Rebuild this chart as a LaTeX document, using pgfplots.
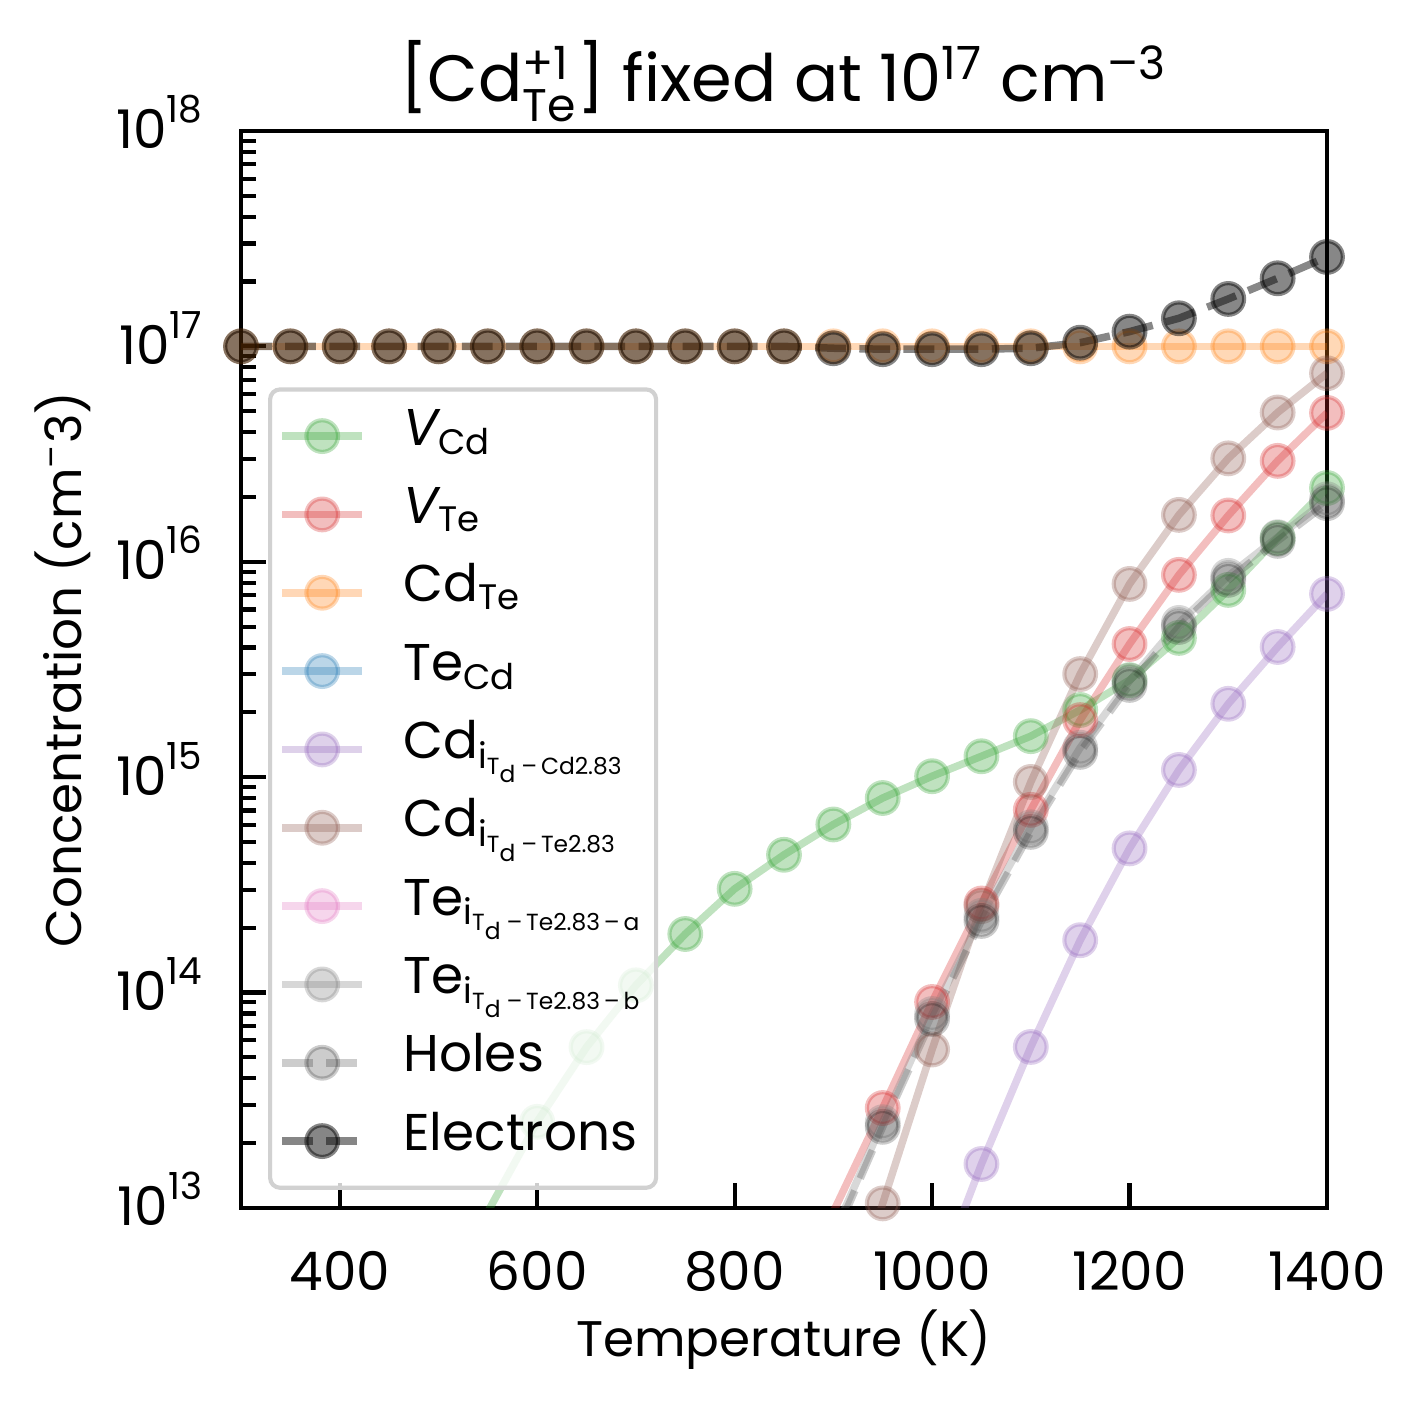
\documentclass[border=0pt]{standalone}
\usepackage{amsmath}
\usepackage{fontspec}
\setmainfont{Poppins}
\DeclareMathSizes{12.4}{12.4}{8.5}{5.6}
\usepackage{pgfplots}
\usepackage{pgfplotstable}
\pgfplotsset{compat=1.18}
\definecolor{tabgreen}{HTML}{2CA02C}
\definecolor{tabred}{HTML}{D62728}
\definecolor{taborange}{HTML}{FF7F0E}
\definecolor{tabblue}{HTML}{1F77B4}
\definecolor{tabpurple}{HTML}{9467BD}
\definecolor{tabbrown}{HTML}{8C564B}
\definecolor{tabpink}{HTML}{E377C2}
\definecolor{tabgray}{HTML}{7F7F7F}

\pgfplotstableread{
T v
300 6e9
350 5e10
400 2.5e11
450 1e12
500 3.2e12
550 9.6e12
600 2.51e13
650 5.58e13
700 1.08e14
750 1.87e14
800 3.03e14
850 4.36e14
900 6.03e14
950 8.0e14
1000 1.01e15
1050 1.25e15
1100 1.55e15
1150 2.05e15
1200 2.82e15
1250 4.43e15
1300 7.4e15
1350 1.29e16
1400 2.2e16
}\tVCd
\pgfplotstableread{
T v
700 1e10
750 8e10
800 5e11
850 2.4e12
900 9.6e12
950 2.91e13
1000 9.04e13
1050 2.59e14
1100 7.05e14
1150 1.84e15
1200 4.15e15
1250 8.69e15
1300 1.64e16
1350 2.94e16
1400 4.91e16
}\tVTe
\pgfplotstableread{
T v
300 1e17
350 1e17
400 1e17
450 1e17
500 1e17
550 1e17
600 1e17
650 1e17
700 1e17
750 1e17
800 1e17
850 1e17
900 1e17
950 1e17
1000 1e17
1050 1e17
1100 1e17
1150 1e17
1200 1e17
1250 1e17
1300 1e17
1350 1e17
1400 1e17
}\tCdTe
\pgfplotstableread{
T v
900 1e9
950 3e9
1000 1e10
1050 3e10
1100 8e10
1150 2e11
1200 4e11
1250 8e11
1300 1.5e12
1350 2.5e12
1400 4e12
}\tTeCd
\pgfplotstableread{
T v
900 1.5e11
950 8e11
1000 4e12
1050 1.6e13
1100 5.59e13
1150 1.75e14
1200 4.67e14
1250 1.08e15
1300 2.19e15
1350 4.02e15
1400 7.09e15
}\tCdiA
\pgfplotstableread{
T v
800 1e10
850 2e11
900 1.8e12
950 1.05e13
1000 5.44e13
1050 2.52e14
1100 9.5e14
1150 3.01e15
1200 7.89e15
1250 1.65e16
1300 3.02e16
1350 4.93e16
1400 7.5e16
}\tCdiB
\pgfplotstableread{
T v
900 2e8
950 6e8
1000 2e9
1050 6e9
1100 2e10
1150 5e10
1200 1e11
1250 2e11
1300 4e11
1350 7e11
1400 1e12
}\tTeiA
\pgfplotstableread{
T v
800 1.6e11
850 1.6e12
900 7.5e12
950 2.5e13
1000 7.95e13
1050 2.27e14
1100 5.85e14
1150 1.37e15
1200 2.8e15
1250 5.2e15
1300 8.6e15
1350 1.3e16
1400 1.95e16
}\tTeiB
\pgfplotstableread{
T v
800 1.5e11
850 1.5e12
900 7.1e12
950 2.38e13
1000 7.54e13
1050 2.15e14
1100 5.57e14
1150 1.31e15
1200 2.68e15
1250 4.98e15
1300 8.24e15
1350 1.25e16
1400 1.87e16
}\tHoles
\pgfplotstableread{
T v
300 1e17
350 1e17
400 1e17
450 1e17
500 1e17
550 1e17
600 1e17
650 1e17
700 1e17
750 1e17
800 1e17
850 1e17
900 0.98e17
950 0.97e17
1000 0.97e17
1050 0.97e17
1100 0.98e17
1150 1.04e17
1200 1.17e17
1250 1.35e17
1300 1.66e17
1350 2.07e17
1400 2.6e17
}\tElec

\pgfplotsset{
  ser/.style n args={2}{color=#1, line width=1.8pt, draw opacity=#2, mark=*, mark size=3.8pt,
    mark options={solid, fill=#1, fill opacity=#2, draw opacity=#2, line width=1pt}},
  dsh/.style={dash pattern=on 7.4pt off 3.2pt},
}

\begin{document}
\begin{tikzpicture}[font=\fontsize{12}{14.4}\selectfont]
\begin{axis}[name=ax,
  scale only axis, width=260.64pt, height=258.48pt,
  xmin=300, xmax=1400, ymin=1e13, ymax=1e18, ymode=log, log basis y=10,
  xtick={400,600,800,1000,1200,1400},
  ytick={1e13,1e14,1e15,1e16,1e17,1e18},
  minor ytick={2e13,3e13,4e13,5e13,6e13,7e13,8e13,9e13,2e14,3e14,4e14,5e14,6e14,7e14,8e14,9e14,2e15,3e15,4e15,5e15,6e15,7e15,8e15,9e15,2e16,3e16,4e16,5e16,6e16,7e16,8e16,9e16,2e17,3e17,4e17,5e17,6e17,7e17,8e17,9e17},
  yticklabels={$\text{10}^{\text{13}}$,$\text{10}^{\text{14}}$,$\text{10}^{\text{15}}$,$\text{10}^{\text{16}}$,$\text{10}^{\text{17}}$,$\text{10}^{\text{18}}$},
  minor x tick num=0,
  tick align=inside, xtick pos=left, ytick pos=left,
  major tick length=6pt, minor tick length=3.6pt,
  every tick/.style={black, line width=1pt},
  axis line style={line width=1pt},
  /pgf/number format/assume math mode=true,
  /pgf/number format/1000 sep={},
  tick label style={font=\fontsize{12.8}{15}\selectfont},
  xticklabel style={anchor=base, yshift=-19.8pt, inner sep=0pt},
  yticklabel style={anchor=base east, xshift=-8.6pt, yshift=-4.3pt, inner sep=0pt},
  xlabel={Temperature (K)},
  ylabel={Concentration (cm$^{\text{–}}$3)},
  xlabel style={at={(axis description cs:0.5,0)}, anchor=center, yshift=-31.7pt},
  ylabel style={at={(axis description cs:0,0.5)}, anchor=center, yshift=42.8pt},
  title={[Cd$^{\text{+1}}_{\text{Te}}$] fixed at 10$^{\text{17}}$ cm$^{\text{–3}}$},
  title style={at={(axis description cs:0.5,1)}, anchor=center, yshift=6pt, font=\fontsize{15.7}{18}\selectfont},
  legend cell align=left,
  legend style={at={(0.0249,0.0168)}, anchor=south west, draw=black!18, line width=1pt,
    rounded corners=2.4pt, fill=white, fill opacity=0.8, text opacity=1, draw opacity=1,
    inner xsep=2pt, inner ysep=1.8pt, row sep=0pt, column sep=8pt,
    font=\fontsize{12.4}{14.8}\selectfont,
    nodes={text height=10.6pt, text depth=6.2pt, inner sep=1pt}},
  legend image code/.code={\draw[mark repeat=2,mark phase=2] plot coordinates {(0pt,0pt) (9.6pt,0pt) (19.2pt,0pt)};},
]
\addplot[ser={tabgreen}{0.3}] table[x=T,y=v] {\tVCd};
\addlegendentry{$\textit{V}_{\text{Cd}}$}
\addplot[ser={tabred}{0.3}] table[x=T,y=v] {\tVTe};
\addlegendentry{$\textit{V}_{\text{Te}}$}
\addplot[ser={taborange}{0.3}] table[x=T,y=v] {\tCdTe};
\addlegendentry{$\text{Cd}_{\text{Te}}$}
\addplot[ser={tabblue}{0.3}] table[x=T,y=v] {\tTeCd};
\addlegendentry{$\text{Te}_{\text{Cd}}$}
\addplot[ser={tabpurple}{0.3}] table[x=T,y=v] {\tCdiA};
\addlegendentry{$\text{Cd}_{\text{i}_{\text{T}_{\text{d}}\text{\,–\,Cd2.83}}}$}
\addplot[ser={tabbrown}{0.3}] table[x=T,y=v] {\tCdiB};
\addlegendentry{$\text{Cd}_{\text{i}_{\text{T}_{\text{d}}\text{\,–\,Te2.83}}}$}
\addplot[ser={tabpink}{0.3}] table[x=T,y=v] {\tTeiA};
\addlegendentry{$\text{Te}_{\text{i}_{\text{T}_{\text{d}}\text{\,–\,Te2.83\,–\,a}}}$}
\addplot[ser={tabgray}{0.3}] table[x=T,y=v] {\tTeiB};
\addlegendentry{$\text{Te}_{\text{i}_{\text{T}_{\text{d}}\text{\,–\,Te2.83\,–\,b}}}$}
\addplot[ser={black}{0.2}, dsh] table[x=T,y=v] {\tHoles};
\addlegendentry{Holes}
\addplot[ser={black}{0.47}, dsh] table[x=T,y=v] {\tElec};
\addlegendentry{Electrons}
\end{axis}
\pgfresetboundingbox
\path[use as bounding box] ([shift={(-57.84pt,-47.76pt)}]ax.south west) rectangle ([shift={(23.52pt,31.44pt)}]ax.north east);
\end{tikzpicture}
\end{document}
